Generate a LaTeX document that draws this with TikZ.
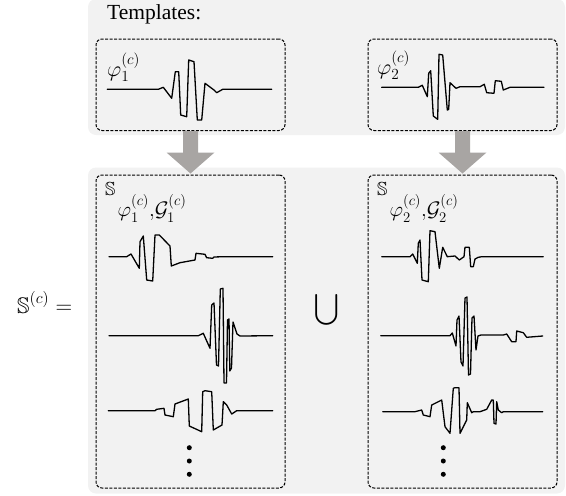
\RequirePackage{fix-cm}
\documentclass[tikz,border=0pt]{standalone}
\usepackage[no-math]{fontspec}
\setmainfont{Liberation Serif}
\usepackage{amssymb}
\usepackage{graphicx}
\usetikzlibrary{calc}
\definecolor{panelgray}{RGB}{242,242,242}
\definecolor{arrowgray}{RGB}{168,165,163}
\newcommand{\bbS}[1]{\resizebox{!}{#1}{$\mathbb{S}$}}
\tikzset{
  panel/.style={fill=panelgray, rounded corners=8pt},
  dbox/.style={draw=black, line width=1pt, dash pattern=on 3pt off 1.5pt, rounded corners=6pt,
    minimum width=189pt, minimum height=91.5pt, inner sep=0pt},
  sbox/.style={dbox, minimum height=313pt},
  wave/.style={line width=1.3pt, line join=round, line cap=round},
  blockarrow/.style={fill=arrowgray},
  lbl/.style={inner sep=0pt, anchor=base west},
  dotnode/.style={circle, fill=black, inner sep=0pt, minimum size=5pt}
}
\begin{document}
\begin{tikzpicture}[x=1pt,y=-1pt]
\useasboundingbox (0,0) rectangle (566,496);
% panels
\fill[panel] (88,-1) rectangle (565,135);
\fill[panel] (88,167.5) rectangle (565,493.5);
% boxes
\node[dbox] (t1) at (190.5,84.75) {};
\node[dbox] (t2) at (462.5,84.75) {};
\node[sbox] (s1) at (190.5,331.5) {};
\node[sbox] (s2) at (462.5,331.5) {};
% block arrows
\foreach \a/\b in {t1/s1,t2/s2}{
  \fill[blockarrow] ($(\a.south)+(-7.5,0)$) -- ($(\a.south)+(7.5,0)$) -- ($(\b.north)+(7.5,-22)$)
    -- ($(\b.north)+(24,-22)$) -- ($(\b.north)+(0,-1)$) -- ($(\b.north)+(-24,-22)$)
    -- ($(\b.north)+(-7.5,-22)$) -- cycle;
}
% texts
\node[lbl, font=\fontsize{21.5}{22}\selectfont] (title) at (107,19) {Templates:};
\node[lbl, font=\fontsize{22}{22}\selectfont] (p1) at (107,76) {$\varphi_1^{(c)}$};
\node[lbl, font=\fontsize{22}{22}\selectfont] (p2) at (377,74) {$\varphi_2^{(c)}$};
\node[lbl] (l1) at (105,195.5) {\bbS{13pt}\kern2pt\raisebox{-21pt}{\fontsize{21}{21}\selectfont$\varphi_1^{(c)}{,}\mathcal{G}_1^{(c)}$}};
\node[lbl] (l2) at (377,195.5) {\bbS{13pt}\kern2pt\raisebox{-21pt}{\fontsize{21}{21}\selectfont$\varphi_2^{(c)}{,}\mathcal{G}_2^{(c)}$}};
\node[lbl] (S) at (17,313) {\fontsize{23}{23}\selectfont$\mbox{\bbS{15.5pt}}^{(c)} =$};
\node[inner sep=0pt] (cup) at (327,310) {\fontsize{22}{22}\selectfont$\displaystyle\bigcup$};
% template waveforms
\draw[wave] plot coordinates {(107.3,89.3) (158.3,89.3) (163.3,87.3) (171.7,98.3) (175.3,71.7) (178.7,71.7) (180.7,115) (186.7,116.7) (188.7,60) (194,61.7) (197.3,120) (201.7,120) (205,83.3) (214,90) (216.7,92.7) (222.7,89.3) (271.7,89.3)};
\draw[wave] plot coordinates {(381.7,87.3) (418.3,87.3) (422.3,85.3) (427.3,96.7) (428.7,73.3) (430.7,70.7) (433.3,116) (437.7,119.3) (439,54.3) (442.7,55) (447.3,110) (448.7,109.3) (450,82.7) (456,88.3) (460,86.7) (480,86.7) (484.3,84.3) (486.7,92.7) (494,93.3) (495.3,80.7) (501.3,81.3) (503.3,90) (510,87.3) (544,87.3)};
% set 1 waveforms
\draw[wave] plot coordinates {(109,256.7) (126.7,256.7) (131,254) (139.3,268.3) (140,241.7) (143.3,236) (146.7,280) (152.7,281) (155,235) (159.3,235) (170,246) (171.3,266) (180,262.7) (195,260) (196,253.3) (205,254.3) (206.7,257.7) (212.7,258.3) (214,257) (223.3,256.7) (272.7,256.7)};
\draw[wave] plot coordinates {(109,335.7) (198.3,335.7) (203.3,333.3) (210,348.3) (211.7,305) (214,303) (216.5,365) (218.5,366) (220.3,289) (223,288.3) (224,383) (226.5,383) (227.5,320) (229,319) (229.8,371) (231.5,368) (233,322) (237,334) (240,336) (272.7,335.7)};
\draw[wave] plot coordinates {(108.3,410.7) (155,410.7) (156.7,409.3) (164,408.3) (165,415) (173.3,416.7) (175,404) (188.3,399) (189.3,426) (201.7,431.7) (202.7,391.7) (205,390.7) (211.7,391.7) (213.3,430) (222,425) (223.3,401.7) (226.7,405) (231.7,414) (236.7,410.7) (272.7,410.7)};
% set 2 waveforms
\draw[wave] plot coordinates {(381.7,256.7) (410,256.7) (412.7,254) (417.3,263.3) (418.3,243.3) (420,240) (422,280) (428.3,281.7) (430,230.7) (435,231.7) (439.3,268.3) (442.7,247.3) (447.3,256.7) (455,256) (459.3,260) (464,256.7) (465,247.3) (469.3,247.3) (470.7,266.7) (473.3,266.7) (475,259) (478.3,257.3) (481.7,256.7) (543.3,256.7)};
\draw[wave] plot coordinates {(380.7,335.7) (450,335.7) (452.3,333) (456,346) (457,320) (459,316) (461,362) (463,366) (465,298) (467,297) (468.5,375) (470.5,374) (472,318) (474,316) (476,350) (478,336) (481,335) (503.3,335) (506.7,334) (511.7,341.7) (516,341.7) (516.7,331) (523.3,332.7) (526.7,337.3) (542.7,336)};
\draw[wave] plot coordinates {(382.7,411.7) (415,411.7) (421.7,410) (423.3,415) (430,416.7) (431.7,405) (441.7,400) (445,426.7) (450,433.3) (453.3,388.3) (455,387.7) (459,387.7) (460,433.3) (466.7,420) (467.3,402.7) (471.7,412.7) (473.3,411.7) (480,411.7) (486.7,409.3) (491.7,400) (493.3,400) (494,423.3) (496,424) (496.7,401.7) (498.3,410) (501.7,412.7) (503.3,411.7) (542.7,411.7)};
% dots
\foreach \n/\y in {a/447.7,b/461,c/474.3}{
  \node[dotnode] (d1\n) at (189.3,\y) {};
  \node[dotnode] (d2\n) at (443.3,\y) {};
}
\end{tikzpicture}
\end{document}
